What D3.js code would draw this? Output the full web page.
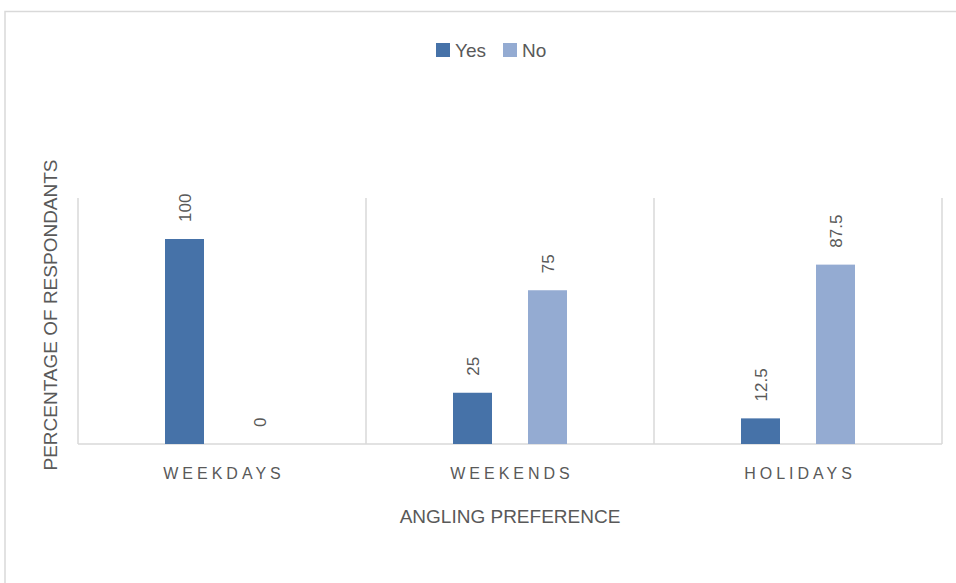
<!DOCTYPE html>
<html>
<head>
<meta charset="utf-8">
<script src="https://cdn.jsdelivr.net/npm/d3@7"></script>
<style>
  body { margin: 0; background: #fff; }
  text { font-family: "Liberation Sans", Arial, sans-serif; fill: #595959; }
</style>
</head>
<body>
<div id="chart"></div>
<script>
// data
const categories = ['WEEKDAYS', 'WEEKENDS', 'HOLIDAYS'];
const seriesNames = ['Yes', 'No'];
const yesValues = [100, 25, 12.5];
const noValues = [0, 75, 87.5];
const seriesColors = ['#4672a8', '#94abd2'];

const W = 956, H = 583;
const plot = { left: 78, right: 942, top: 198, bottom: 444 };

const svg = d3.select('#chart').append('svg')
    .attr('width', W).attr('height', H);

// outer chart border (only top and left are in view)
svg.append('rect')
    .attr('x', 5).attr('y', 11.5)
    .attr('width', W + 10).attr('height', H + 10)
    .attr('fill', '#fff').attr('stroke', '#d9d9d9').attr('stroke-width', 1.5);

const x0 = d3.scaleBand().domain(categories).range([plot.left, plot.right]).padding(0);
const x1 = d3.scaleBand().domain(seriesNames).range([87, 201]).paddingInner(0.48).paddingOuter(0);
const y = d3.scaleLinear().domain([0, 120]).range([plot.bottom, plot.top]);

const rows = categories.map((c, i) => ({
    cat: c,
    vals: [{ s: 'Yes', v: yesValues[i] }, { s: 'No', v: noValues[i] }]
}));

// category separators
const edges = categories.map(c => x0(c)).concat([x0.range()[1]]);
svg.append('g').selectAll('line').data(edges).join('line')
    .attr('x1', d => d).attr('x2', d => d)
    .attr('y1', y(120)).attr('y2', y(0))
    .attr('stroke', '#d9d9d9').attr('stroke-width', 1.5);

// baseline
svg.append('line')
    .attr('x1', plot.left).attr('x2', plot.right)
    .attr('y1', y(0)).attr('y2', y(0))
    .attr('stroke', '#d9d9d9').attr('stroke-width', 1.5);

const color = d3.scaleOrdinal().domain(seriesNames).range(seriesColors);

const grp = svg.append('g').selectAll('g').data(rows).join('g')
    .attr('transform', d => `translate(${x0(d.cat)},0)`);

grp.selectAll('rect').data(d => d.vals).join('rect')
    .attr('x', d => x1(d.s))
    .attr('y', d => y(d.v))
    .attr('width', x1.bandwidth())
    .attr('height', d => y(0) - y(d.v))
    .attr('fill', d => color(d.s));

// value labels, rotated
grp.selectAll('text.val').data(d => d.vals).join('text')
    .attr('class', 'val')
    .attr('transform', d => `translate(${x1(d.s) + x1.bandwidth() / 2 + 6},${y(d.v) - 17}) rotate(-90)`)
    .attr('text-anchor', 'start')
    .style('font-size', '17px')
    .text(d => d.v);

// category labels
svg.append('g').selectAll('text').data(categories).join('text')
    .attr('x', d => x0(d) + x0.bandwidth() / 2 + 2)
    .attr('y', 479)
    .attr('text-anchor', 'middle')
    .style('font-size', '16px')
    .style('letter-spacing', '4px')
    .text(d => d);

// axis titles
svg.append('text')
    .attr('x', (plot.left + plot.right) / 2).attr('y', 523)
    .attr('text-anchor', 'middle')
    .style('font-size', '19px')
    .text('ANGLING PREFERENCE');

svg.append('text')
    .attr('transform', 'translate(57,315) rotate(-90)')
    .attr('text-anchor', 'middle')
    .style('font-size', '19px')
    .text('PERCENTAGE OF RESPONDANTS');

// legend
const legendX = [436, 503];
const leg = svg.append('g').selectAll('g').data(seriesNames).join('g')
    .attr('transform', (d, i) => `translate(${legendX[i]},43)`);
leg.append('rect').attr('width', 14).attr('height', 14).attr('fill', d => color(d));
leg.append('text').attr('x', 19).attr('y', 14)
    .style('font-size', '19px')
    .text(d => d);
</script>
</body>
</html>
